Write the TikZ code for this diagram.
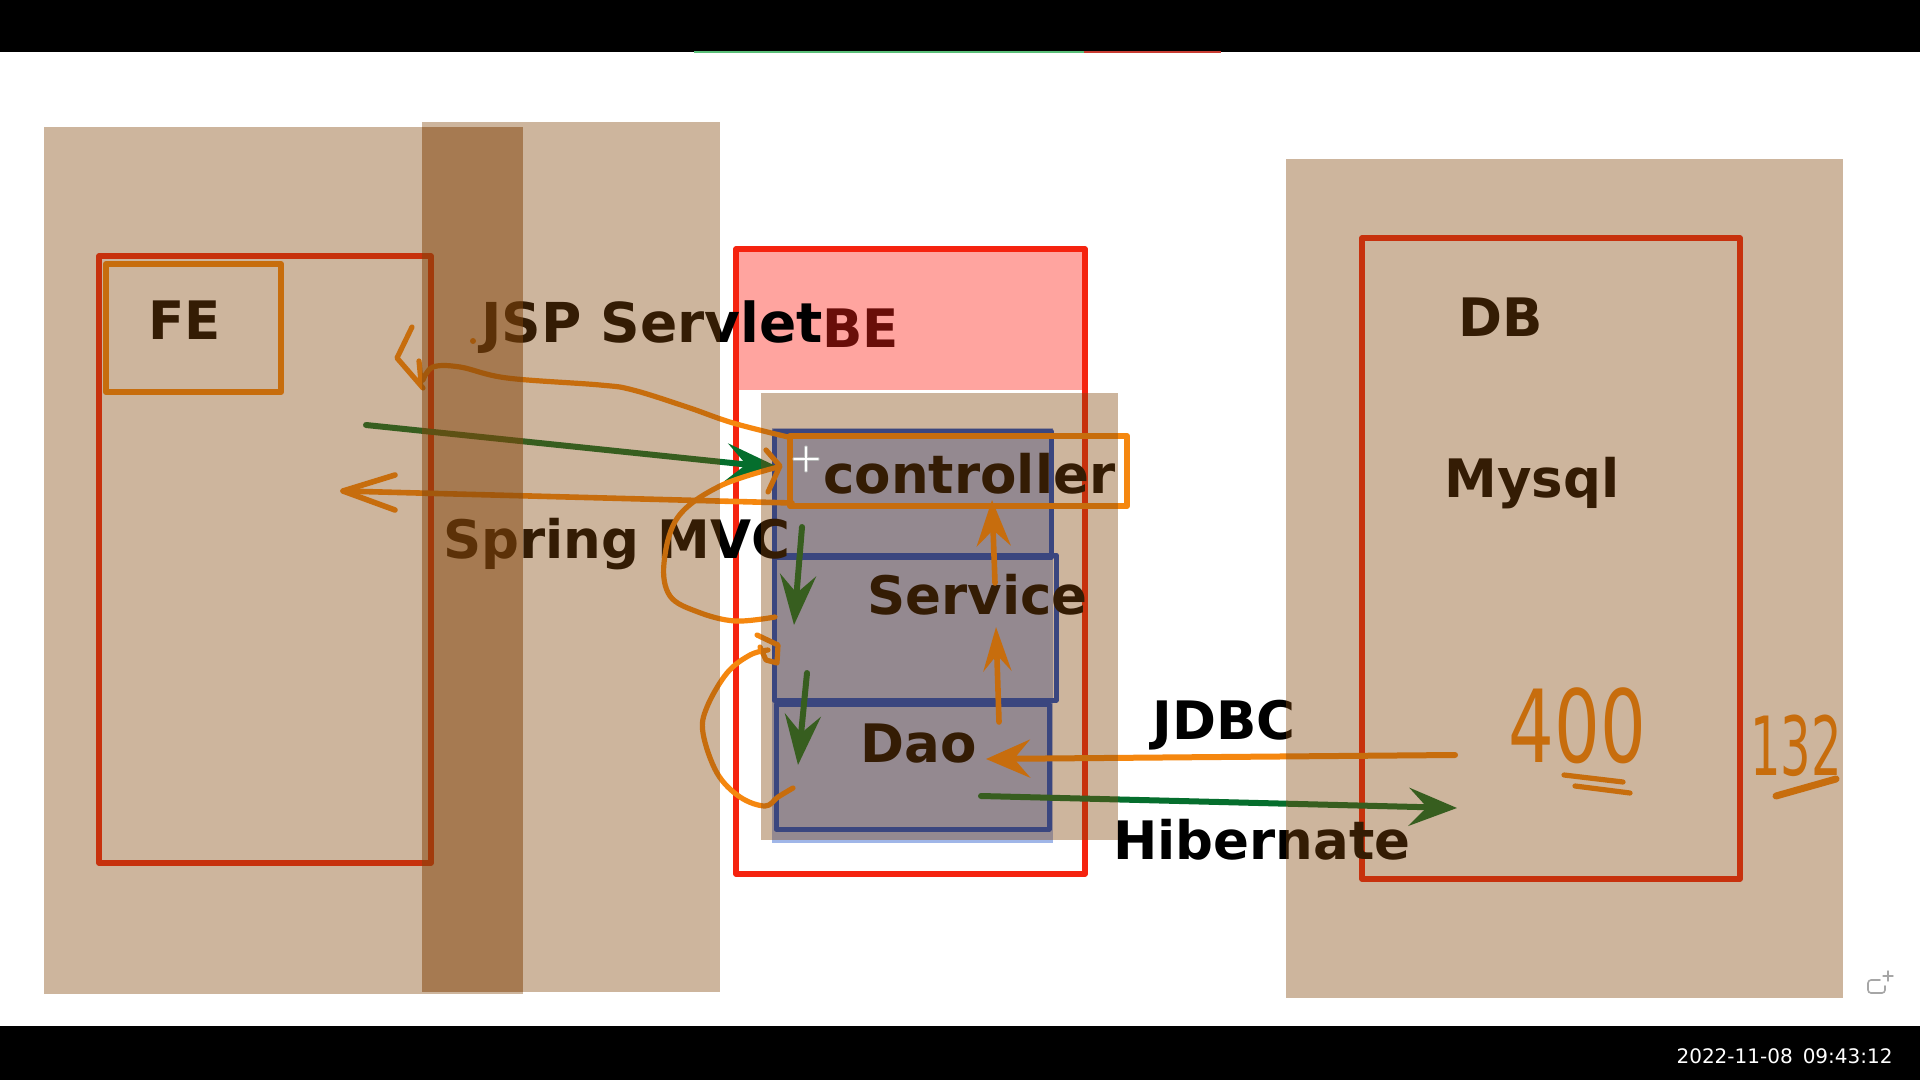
\documentclass[tikz,border=0pt]{standalone}
\usepackage{fontspec}
\setmainfont{DejaVu Sans}
\usetikzlibrary{arrows.meta}
\definecolor{tanov}{RGB}{130,70,12}
\definecolor{redln}{RGB}{245,35,15}
\definecolor{orng}{RGB}{245,135,15}
\definecolor{grn}{RGB}{5,110,45}
\definecolor{bluefill}{RGB}{160,182,232}
\definecolor{blueln}{RGB}{10,70,205}
\definecolor{pinkov}{RGB}{255,34,24}
\definecolor{topgreen}{RGB}{90,190,120}
\definecolor{topred}{RGB}{200,60,50}
\begin{document}
\begin{tikzpicture}[x=0.5pt,y=-0.5pt,line join=round,line cap=round,
  lbl/.style={inner sep=0pt,anchor=base west,font=\fontsize{26.5}{30}\selectfont\bfseries,text=black},
  tanbox/.style={fill=tanov,fill opacity=0.4,draw=none},
  redbox/.style={draw=redln,line width=2.8pt},
  bluebox/.style={draw=blueln,line width=2.5pt},
  hand/.style={draw=orng,line width=2.6pt},
  gline/.style={draw=grn,line width=3pt},
  gtip/.style={-{Stealth[length=25pt,width=18pt,inset=9pt]}},
  otip/.style={-{Stealth[length=23pt,width=17pt,inset=8pt]}},
  num/.style={inner sep=0pt,anchor=base west,text=orng}]
\useasboundingbox (0,0) rectangle (1920,1080);
% background and bars
\fill[white] (0,0) rectangle (1920,1080);
\fill[black] (0,0) rectangle (1920,52);
\fill[black] (0,1026) rectangle (1920,1080);
\draw[topgreen,line width=1pt,line cap=butt] (694,52) -- (1084,52);
\draw[topred,line width=1pt,line cap=butt] (1084,52) -- (1221,52);
% BE header
\node[lbl] (be) at (822,348) {BE};
\fill[pinkov,fill opacity=0.41] (736,249) rectangle (1085,390);
% layer stack
\fill[bluefill] (772,428) rectangle (1053,843);
\draw[bluebox] (774,431) rectangle (1051,557);
\draw[bluebox] (774,555) rectangle (1056,700);
\draw[bluebox] (776,704) rectangle (1049,829);
% red frames
\draw[redbox] (99,256) rectangle (431,863);
\draw[redbox] (736,249) rectangle (1085,874);
\draw[redbox] (1362,238) rectangle (1740,879);
% orange frames
\draw[draw=orng,line width=3pt] (106,264) rectangle (281,392);
\draw[draw=orng,line width=3pt] (790,436) rectangle (1127,506);
% labels
\node[lbl] (fe) at (148,340) {FE};
\node[lbl,font=\fontsize{27.5}{30}\selectfont\bfseries] (jsp) at (481,343) {JSP Servlet};
\node[lbl] (ctrl) at (823,493) {controller};
\node[lbl] (mvc) at (443,558) {Spring MVC};
\node[lbl] (svc) at (867,614) {Service};
\node[lbl] (dao) at (860,762) {Dao};
\node[lbl] (jdbc) at (1152,739) {JDBC};
\node[lbl] (hib) at (1113,859) {Hibernate};
\node[lbl] (db) at (1458,336) {DB};
\node[lbl] (mysql) at (1444,497) {Mysql};
% connector end points
\coordinate (feA) at (366,425);
\coordinate (ctrlIn) at (780,468);
\coordinate (ctrlOut) at (792,503);
\coordinate (feIn) at (343,491);
\coordinate (s1a) at (802,527);
\coordinate (s1b) at (794,625);
\coordinate (s2a) at (807,673);
\coordinate (s2b) at (798,765);
\coordinate (u1a) at (995,583);
\coordinate (u1b) at (992,500);
\coordinate (u2a) at (999,722);
\coordinate (u2b) at (996,627);
\coordinate (jdA) at (1455,755);
\coordinate (jdB) at (986,759);
\coordinate (hbA) at (981,796);
\coordinate (hbB) at (1457,808);
% green request arrow
\draw[gline,-{Stealth[length=27pt,width=19pt,inset=10pt]}] (feA) -- (ctrlIn);
% orange response arrow
\draw[hand,line width=2.8pt] (ctrlOut) -- (feIn);
\draw[hand,line width=2.8pt] (395,475) -- (feIn) -- (395,510);
% JSP Servlet curve
\draw[hand] plot[smooth,tension=0.6] coordinates {(788,437) (733,423) (687,407) (633,390) (600,385) (507,378) (460,367) (433,367) (423,380)};
\draw[hand] (412,327) -- (397,358) -- (423,388);
\draw[hand] (419,361) -- (421,382);
\fill[orng] (473,341) circle (3);
% Spring MVC loop
\draw[hand] plot[smooth,tension=0.6] coordinates {(775,617) (735,621) (698,612) (670,596) (664,563) (678,517) (720,486) (778,467)};
\draw[hand] (766,450) -- (780,466) -- (768,492);
% second loop
\draw[hand] plot[smooth,tension=0.6] coordinates {(793,788) (778,797) (765,806) (740,797) (717,773) (703,733) (707,707) (727,673) (750,655) (768,650)};
\draw[hand] (757,635) -- (778,645) -- (777,663) -- (766,660) -- (760,647);
% down arrows
\draw[gline,gtip] (s1a) -- (s1b);
\draw[gline,gtip] (s2a) -- (s2b);
% up arrows
\draw[hand,line width=2.8pt,otip] (u1a) -- (u1b);
\draw[hand,line width=2.8pt,-{Stealth[length=22pt,width=14pt,inset=8pt]}] (u2a) -- (u2b);
% JDBC / Hibernate
\draw[hand,line width=3pt,-{Stealth[length=22pt,width=19pt,inset=8pt]}] (jdA) -- (jdB);
\draw[gline,-{Stealth[length=24pt,width=19pt,inset=9pt]}] (hbA) -- (hbB);
% handwritten numbers
\node[num,font=\fontsize{36}{40}\selectfont] (n400) at (1508,762) {\scalebox{1}[1.4]{400}};
\draw[hand] (1564,775) -- (1623,782);
\draw[hand] (1575,786) -- (1630,793);
\node[num,font=\fontsize{24}{28}\selectfont] (n132) at (1750,775) {\scalebox{1}[1.7]{132}};
\draw[hand,line width=3.5pt] (1776,796) -- (1836,779);
% translucent highlight panels
\path[tanbox] (44,127) rectangle (523,994);
\path[tanbox] (422,122) rectangle (720,992);
\path[fill=tanov,fill opacity=0.2] (422,127) rectangle (523,992);
\path[tanbox] (761,393) rectangle (1118,840);
\path[tanbox] (1286,159) rectangle (1843,998);
% cursor
\draw[gray!60,line width=1.6pt] (794,459) -- (818,459) (806,447) -- (806,471);
\draw[white,line width=0.8pt] (794,459) -- (818,459) (806,447) -- (806,471);
% corner icon
\draw[gray!70,line width=0.8pt,rounded corners=1.5pt] (1880,980) -- (1868,980) -- (1868,993) -- (1885,993) -- (1885,986);
\draw[gray!70,line width=0.7pt] (1883,976) -- (1893,976) (1888,971) -- (1888,981);
% timestamp
\node[inner sep=0pt,anchor=base east,text=white,font=\fontsize{10}{12}\selectfont] (ts) at (1893,1063) {2022-11-08\hspace{0.5em}09:43:12};
\end{tikzpicture}
\end{document}
